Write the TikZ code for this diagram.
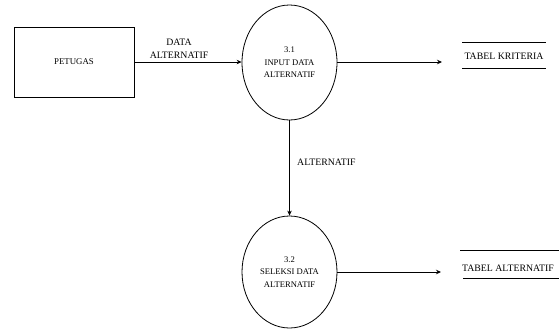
\documentclass[tikz,border=0pt]{standalone}
\usepackage{fontspec}
\setmainfont{Liberation Serif}
\usetikzlibrary{shapes.geometric,arrows.meta}
\begin{document}
\begin{tikzpicture}[x=1pt,y=-1pt,
  flow/.style={line width=0.8pt,-{Stealth[length=5pt,width=4.5pt]}},
  entity/.style={draw,line width=0.8pt,minimum width=120pt,minimum height=70pt,inner sep=0pt,
    font=\fontsize{8.8}{11}\selectfont},
  process/.style={draw,line width=0.8pt,ellipse,minimum width=95pt,inner sep=0pt,align=center,
    font=\fontsize{8.6}{12.5}\selectfont},
  flowlabel/.style={inner sep=0pt,align=center,font=\fontsize{9.8}{13}\selectfont},
  storetext/.style={inner sep=0pt,font=\fontsize{9.8}{12}\selectfont},
  storeline/.style={line width=1pt}]
  \useasboundingbox (0,0) rectangle (559,330);

  % external entity
  \node[entity] (petugas) at (74,62) {PETUGAS};

  % processes
  \node[process,minimum height=115pt] (p31) at (289.5,62.5) {3.1\\INPUT DATA\\ALTERNATIF};
  \node[process,minimum height=112pt] (p32) at (289.5,272) {3.2\\SELEKSI DATA\\ALTERNATIF};

  % data stores
  \node[storetext] (tk) at (504,56.5) {TABEL KRITERIA};
  \draw[storeline] (462,42.3) -- (546,42.3);
  \draw[storeline] (462,68.3) -- (546,68.3);

  \node[storetext] (ta) at (508,268) {TABEL ALTERNATIF};
  \draw[storeline] (460,250) -- (559,250);
  \draw[storeline] (463,278) -- (559,278);

  % flow end points in front of the stores
  \coordinate (tkin) at (442,62);
  \coordinate (tain) at (441,272);

  % data flows
  \draw[flow] (petugas.east) -- (p31.west |- petugas.east);
  \node[flowlabel] (lbl1) at (179,48.5) {DATA\\ALTERNATIF};

  \draw[flow] (p31.east |- tkin) -- (tkin);

  \draw[flow] (p31.south) -- (p32.north);
  \node[flowlabel,anchor=west] (lbl2) at (297,162) {ALTERNATIF};

  \draw[flow] (p32.east |- tain) -- (tain);
\end{tikzpicture}
\end{document}
